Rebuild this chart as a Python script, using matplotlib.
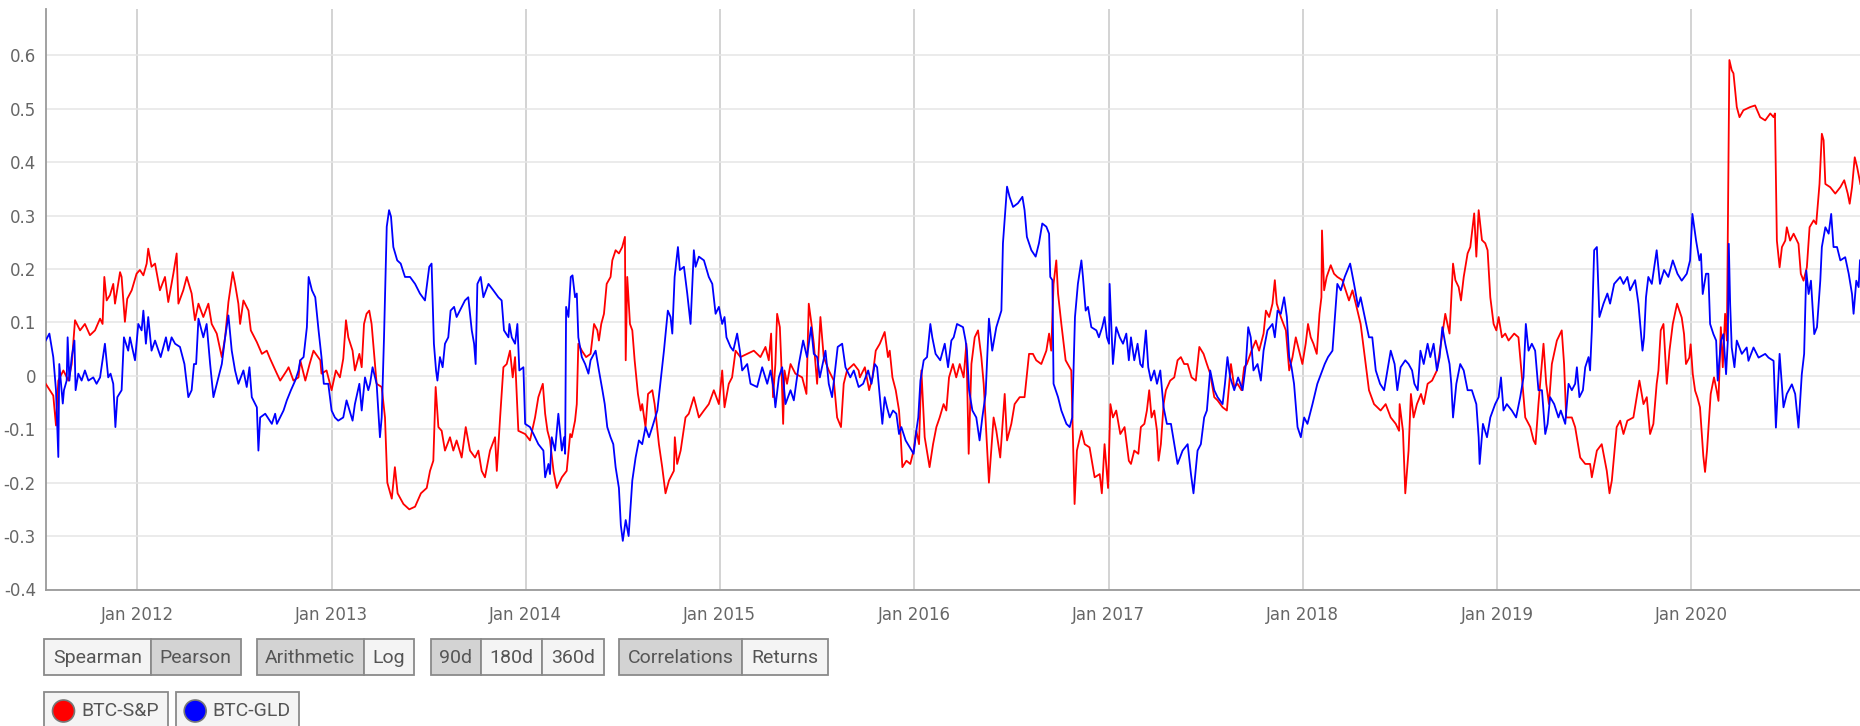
import numpy as np
import matplotlib
matplotlib.use("Agg")
import matplotlib.pyplot as plt
import matplotlib.dates as mdates
from matplotlib.patches import Rectangle, Circle
from datetime import datetime

# ---------------- data (decimal years, correlation values) ----------------
sp_t = [2011.530,2011.569,2011.583,2011.595,2011.621,2011.647,2011.664,2011.681,2011.707,2011.732,2011.758,2011.784,2011.810,2011.823,2011.832,2011.844,2011.861,2011.878,2011.887,2011.913,2011.921,2011.938,2011.950,2011.973,2011.998,
2012.015,2012.033,2012.050,2012.058,2012.075,2012.093,2012.118,2012.144,2012.161,2012.187,2012.204,2012.213,2012.238,2012.256,2012.281,2012.298,2012.316,2012.341,2012.367,2012.384,2012.410,2012.436,2012.453,2012.470,2012.492,2012.504,2012.521,2012.530,2012.547,2012.573,2012.585,2012.616,2012.642,2012.667,2012.684,2012.719,2012.736,2012.770,2012.779,2012.804,2012.830,2012.839,2012.865,2012.887,2012.907,2012.942,2012.948,2012.974,
2013.000,2013.022,2013.043,2013.060,2013.074,2013.086,2013.108,2013.120,2013.143,2013.155,2013.167,2013.180,2013.194,2013.206,2013.232,2013.258,2013.275,2013.287,2013.310,2013.326,2013.340,2013.370,2013.400,2013.430,2013.460,2013.490,2013.507,2013.524,2013.536,2013.550,2013.567,2013.584,2013.610,2013.627,2013.644,2013.670,2013.691,2013.713,2013.739,2013.756,2013.773,2013.790,2013.816,2013.842,2013.851,2013.868,2013.885,2013.902,2013.919,2013.933,2013.945,2013.962,2013.997,
2014.022,2014.048,2014.065,2014.088,2014.100,2014.112,2014.125,2014.143,2014.160,2014.186,2014.211,2014.229,2014.237,2014.254,2014.263,2014.271,2014.289,2014.311,2014.334,2014.352,2014.369,2014.377,2014.389,2014.403,2014.417,2014.437,2014.446,2014.463,2014.480,2014.497,2014.511,2014.515,2014.523,2014.537,2014.549,2014.561,2014.578,2014.592,2014.600,2014.617,2014.630,2014.652,2014.664,2014.686,2014.703,2014.720,2014.738,2014.763,2014.768,2014.780,2014.798,2014.823,2014.840,2014.866,2014.892,2014.918,2014.943,2014.969,2014.995,
2015.012,2015.024,2015.046,2015.063,2015.081,2015.106,2015.141,2015.175,2015.209,2015.235,2015.252,2015.264,2015.274,2015.286,2015.295,2015.309,2015.316,2015.326,2015.333,2015.346,2015.364,2015.389,2015.424,2015.446,2015.458,2015.472,2015.484,2015.501,2015.518,2015.535,2015.561,2015.587,2015.604,2015.624,2015.638,2015.655,2015.690,2015.715,2015.721,2015.747,2015.769,2015.786,2015.803,2015.824,2015.849,2015.866,2015.875,2015.889,2015.906,2015.923,2015.930,2015.940,2015.961,2015.981,2015.998,
2016.012,2016.026,2016.038,2016.055,2016.080,2016.098,2016.115,2016.132,2016.152,2016.166,2016.180,2016.200,2016.217,2016.235,2016.255,2016.269,2016.281,2016.295,2016.312,2016.329,2016.346,2016.358,2016.372,2016.385,2016.409,2016.423,2016.443,2016.466,2016.478,2016.500,2016.517,2016.543,2016.568,2016.591,2016.611,2016.628,2016.654,2016.680,2016.694,2016.705,2016.717,2016.731,2016.740,2016.757,2016.779,2016.808,2016.825,2016.837,2016.860,2016.877,2016.902,2016.928,2016.954,2016.965,2016.979,2016.997,
2017.009,2017.022,2017.039,2017.060,2017.082,2017.104,2017.115,2017.132,2017.153,2017.166,2017.184,2017.197,2017.209,2017.221,2017.235,2017.249,2017.257,2017.269,2017.283,2017.295,2017.317,2017.338,2017.355,2017.372,2017.389,2017.407,2017.427,2017.449,2017.467,2017.489,2017.506,2017.523,2017.544,2017.561,2017.587,2017.609,2017.621,2017.630,2017.647,2017.664,2017.684,2017.698,2017.712,2017.736,2017.758,2017.775,2017.798,2017.810,2017.827,2017.844,2017.856,2017.866,2017.887,2017.913,2017.930,2017.947,2017.964,2017.981,2017.998,
2018.015,2018.027,2018.041,2018.055,2018.072,2018.086,2018.096,2018.099,2018.110,2018.123,2018.144,2018.161,2018.178,2018.204,2018.238,2018.256,2018.273,2018.298,2018.341,2018.367,2018.401,2018.427,2018.453,2018.479,2018.496,2018.499,2018.516,2018.528,2018.545,2018.557,2018.571,2018.588,2018.609,2018.623,2018.643,2018.666,2018.691,2018.722,2018.734,2018.756,2018.774,2018.786,2018.803,2018.815,2018.829,2018.849,2018.863,2018.883,2018.894,2018.906,2018.923,2018.940,2018.952,2018.966,2018.983,2018.997,
2019.009,2019.026,2019.043,2019.060,2019.089,2019.111,2019.129,2019.146,2019.172,2019.189,2019.199,2019.214,2019.240,2019.254,2019.268,2019.283,2019.309,2019.334,2019.346,2019.357,2019.386,2019.403,2019.429,2019.455,2019.480,2019.489,2019.515,2019.540,2019.566,2019.580,2019.592,2019.617,2019.635,2019.652,2019.672,2019.703,2019.734,2019.755,2019.772,2019.789,2019.806,2019.823,2019.832,2019.844,2019.858,2019.875,2019.889,2019.906,2019.928,2019.952,2019.964,2019.974,2019.991,2019.998,
2020.009,2020.021,2020.033,2020.046,2020.063,2020.072,2020.082,2020.101,2020.118,2020.132,2020.141,2020.153,2020.163,2020.175,2020.184,2020.197,2020.209,2020.218,2020.235,2020.249,2020.269,2020.304,2020.329,2020.355,2020.381,2020.407,2020.424,2020.431,2020.441,2020.455,2020.467,2020.484,2020.492,2020.509,2020.527,2020.552,2020.564,2020.578,2020.595,2020.609,2020.630,2020.643,2020.660,2020.672,2020.681,2020.690,2020.715,2020.741,2020.767,2020.787,2020.805,2020.815,2020.827,2020.841,2020.853,2020.870]
sp_v = [-0.015,-0.037,-0.093,-0.009,0.010,-0.009,0.022,0.104,0.085,0.097,0.076,0.085,0.107,0.097,0.185,0.141,0.151,0.172,0.135,0.194,0.185,0.101,0.144,0.160,0.191,
0.198,0.188,0.210,0.238,0.204,0.210,0.160,0.185,0.138,0.191,0.229,0.135,0.160,0.185,0.154,0.104,0.135,0.110,0.135,0.097,0.079,0.035,0.072,0.138,0.194,0.172,0.135,0.097,0.141,0.122,0.085,0.063,0.041,0.047,0.032,0.004,-0.009,0.010,0.016,-0.009,-0.003,0.029,-0.009,0.022,0.047,0.029,0.004,0.010,
-0.027,0.010,-0.003,0.032,0.104,0.072,0.047,0.010,0.041,0.016,0.097,0.116,0.122,0.097,-0.015,-0.021,-0.078,-0.200,-0.230,-0.171,-0.220,-0.240,-0.250,-0.245,-0.220,-0.210,-0.178,-0.159,-0.021,-0.096,-0.103,-0.140,-0.115,-0.140,-0.121,-0.153,-0.096,-0.140,-0.153,-0.140,-0.178,-0.190,-0.140,-0.115,-0.178,-0.078,0.016,0.022,0.047,-0.003,0.035,-0.103,-0.109,
-0.121,-0.078,-0.040,-0.015,-0.071,-0.103,-0.121,-0.178,-0.210,-0.190,-0.178,-0.109,-0.115,-0.084,-0.053,0.060,0.047,0.035,0.041,0.097,0.085,0.066,0.097,0.116,0.172,0.185,0.216,0.235,0.229,0.241,0.260,0.029,0.185,0.097,0.085,0.029,-0.034,-0.065,-0.053,-0.096,-0.034,-0.027,-0.053,-0.128,-0.171,-0.220,-0.196,-0.178,-0.115,-0.165,-0.140,-0.078,-0.071,-0.040,-0.078,-0.065,-0.053,-0.027,-0.053,
0.010,-0.059,-0.015,-0.003,0.047,0.035,0.041,0.047,0.035,0.054,0.029,0.079,-0.040,0.022,0.116,0.091,0.029,-0.090,0.010,-0.015,0.022,0.004,-0.003,-0.034,0.135,0.097,0.060,-0.015,0.110,0.035,0.010,-0.009,-0.078,-0.096,-0.015,0.010,0.022,0.010,-0.003,0.016,-0.027,-0.003,0.047,0.060,0.082,0.035,0.047,-0.003,-0.027,-0.065,-0.103,-0.171,-0.159,-0.165,-0.140,
-0.103,-0.128,0.010,-0.115,-0.171,-0.128,-0.096,-0.078,-0.053,-0.065,-0.003,0.022,-0.003,0.022,-0.003,0.060,-0.146,0.022,0.072,0.085,0.035,-0.015,-0.109,-0.200,-0.078,-0.103,-0.153,-0.034,-0.121,-0.090,-0.053,-0.040,-0.040,0.041,0.041,0.029,0.022,0.047,0.079,0.047,0.172,0.216,0.154,0.097,0.029,0.010,-0.240,-0.140,-0.103,-0.128,-0.134,-0.190,-0.184,-0.220,-0.128,-0.210,
-0.053,-0.078,-0.065,-0.109,-0.096,-0.159,-0.165,-0.140,-0.146,-0.096,-0.090,-0.065,-0.027,-0.078,-0.065,-0.103,-0.159,-0.128,-0.053,-0.027,-0.009,-0.003,0.029,0.035,0.022,0.022,-0.003,-0.009,0.054,0.041,0.022,0.004,-0.040,-0.046,-0.059,-0.065,-0.015,0.022,-0.021,-0.015,-0.027,0.016,0.022,0.047,0.066,0.047,0.079,0.122,0.110,0.135,0.179,0.135,0.110,0.085,0.010,0.035,0.072,0.047,0.022,
0.060,0.097,0.072,0.060,0.041,0.116,0.147,0.272,0.160,0.185,0.207,0.191,0.185,0.179,0.141,0.160,0.135,0.097,-0.027,-0.053,-0.065,-0.053,-0.078,-0.090,-0.103,-0.053,-0.103,-0.220,-0.140,-0.034,-0.078,-0.053,-0.034,-0.053,-0.015,-0.009,0.010,0.085,0.116,0.079,0.210,0.179,0.166,0.141,0.185,0.229,0.241,0.304,0.223,0.310,0.254,0.248,0.235,0.147,0.097,0.085,
0.110,0.072,0.079,0.066,0.079,0.072,-0.003,-0.078,-0.096,-0.121,-0.128,-0.053,0.060,-0.015,-0.053,0.022,0.066,0.085,0.022,-0.078,-0.078,-0.096,-0.153,-0.165,-0.165,-0.190,-0.140,-0.128,-0.178,-0.220,-0.196,-0.096,-0.084,-0.109,-0.084,-0.078,-0.009,-0.053,-0.040,-0.109,-0.090,-0.015,0.010,0.085,0.097,-0.015,0.047,0.097,0.135,0.109,0.078,0.022,0.034,0.059,
0.003,-0.028,-0.041,-0.059,-0.150,-0.180,-0.140,-0.034,-0.003,-0.028,-0.047,0.091,0.016,0.116,0.066,0.591,0.572,0.566,0.503,0.484,0.497,0.503,0.506,0.484,0.478,0.491,0.484,0.491,0.253,0.203,0.241,0.253,0.278,0.253,0.266,0.247,0.191,0.178,0.203,0.278,0.291,0.284,0.359,0.453,0.441,0.359,0.353,0.341,0.353,0.366,0.341,0.322,0.353,0.409,0.391,0.359]

gld_t = [2011.530,2011.549,2011.569,2011.583,2011.595,2011.600,2011.618,2011.624,2011.638,2011.643,2011.652,2011.664,2011.678,2011.684,2011.698,2011.715,2011.732,2011.750,2011.775,2011.792,2011.810,2011.835,2011.852,2011.864,2011.878,2011.889,2011.899,2011.921,2011.933,2011.955,2011.964,2011.990,
2012.007,2012.024,2012.033,2012.046,2012.058,2012.075,2012.093,2012.122,2012.149,2012.161,2012.178,2012.196,2012.221,2012.244,2012.264,2012.281,2012.293,2012.304,2012.316,2012.341,2012.358,2012.376,2012.393,2012.419,2012.436,2012.453,2012.470,2012.487,2012.504,2012.521,2012.547,2012.564,2012.578,2012.590,2012.616,2012.624,2012.633,2012.659,2012.693,2012.710,2012.719,2012.753,2012.770,2012.791,2012.813,2012.830,2012.839,2012.856,2012.873,2012.882,2012.899,2012.916,2012.933,2012.948,2012.960,2012.983,
2013.000,2013.017,2013.034,2013.060,2013.077,2013.108,2013.120,2013.143,2013.155,2013.172,2013.189,2013.198,2013.211,2013.232,2013.249,2013.258,2013.270,2013.284,2013.296,2013.306,2013.318,2013.338,2013.356,2013.378,2013.404,2013.430,2013.455,2013.481,2013.503,2013.515,2013.527,2013.538,2013.545,2013.558,2013.572,2013.584,2013.601,2013.613,2013.631,2013.644,2013.670,2013.687,2013.704,2013.722,2013.734,2013.742,2013.751,2013.768,2013.782,2013.808,2013.833,2013.859,2013.876,2013.888,2013.911,2013.916,2013.928,2013.945,2013.957,2013.967,2013.988,2013.997,
2014.022,2014.040,2014.065,2014.091,2014.100,2014.117,2014.125,2014.134,2014.151,2014.168,2014.186,2014.198,2014.203,2014.208,2014.220,2014.232,2014.241,2014.254,2014.263,2014.271,2014.289,2014.306,2014.323,2014.334,2014.360,2014.377,2014.395,2014.407,2014.420,2014.437,2014.451,2014.463,2014.480,2014.490,2014.500,2014.515,2014.530,2014.549,2014.566,2014.583,2014.600,2014.617,2014.635,2014.652,2014.678,2014.712,2014.732,2014.746,2014.755,2014.767,2014.784,2014.794,2014.815,2014.832,2014.849,2014.866,2014.875,2014.892,2014.918,2014.943,2014.961,2014.978,2014.995,
2015.012,2015.024,2015.034,2015.055,2015.069,2015.089,2015.103,2015.115,2015.141,2015.158,2015.192,2015.218,2015.244,2015.261,2015.278,2015.286,2015.304,2015.321,2015.338,2015.364,2015.381,2015.407,2015.429,2015.449,2015.470,2015.484,2015.501,2015.515,2015.544,2015.561,2015.578,2015.607,2015.630,2015.647,2015.672,2015.690,2015.715,2015.738,2015.764,2015.781,2015.798,2015.810,2015.824,2015.837,2015.849,2015.861,2015.875,2015.892,2015.909,2015.923,2015.935,2015.957,2015.978,2015.998,
2016.012,2016.022,2016.033,2016.050,2016.067,2016.084,2016.094,2016.111,2016.135,2016.158,2016.175,2016.192,2016.204,2016.221,2016.252,2016.265,2016.272,2016.283,2016.300,2016.320,2016.337,2016.351,2016.368,2016.385,2016.402,2016.423,2016.449,2016.457,2016.478,2016.491,2016.509,2016.534,2016.557,2016.568,2016.580,2016.603,2016.625,2016.642,2016.659,2016.680,2016.694,2016.700,2016.711,2016.717,2016.740,2016.757,2016.783,2016.800,2016.813,2016.827,2016.842,2016.860,2016.868,2016.882,2016.894,2016.911,2016.937,2016.950,2016.967,2016.979,2016.991,
2017.002,2017.005,2017.022,2017.039,2017.057,2017.074,2017.091,2017.104,2017.115,2017.132,2017.149,2017.163,2017.175,2017.192,2017.204,2017.218,2017.235,2017.249,2017.266,2017.283,2017.300,2017.321,2017.338,2017.355,2017.381,2017.407,2017.424,2017.437,2017.458,2017.475,2017.492,2017.506,2017.523,2017.544,2017.561,2017.587,2017.599,2017.612,2017.626,2017.647,2017.667,2017.690,2017.707,2017.719,2017.732,2017.746,2017.767,2017.784,2017.798,2017.818,2017.844,2017.856,2017.870,2017.887,2017.904,2017.918,2017.930,2017.942,2017.955,2017.973,2017.990,
2018.007,2018.024,2018.050,2018.075,2018.101,2018.113,2018.130,2018.153,2018.178,2018.196,2018.216,2018.244,2018.264,2018.285,2018.298,2018.319,2018.341,2018.358,2018.376,2018.398,2018.419,2018.453,2018.473,2018.487,2018.504,2018.528,2018.545,2018.563,2018.575,2018.592,2018.606,2018.623,2018.643,2018.657,2018.674,2018.691,2018.705,2018.719,2018.734,2018.756,2018.765,2018.774,2018.791,2018.811,2018.829,2018.849,2018.871,2018.894,2018.906,2018.911,2018.928,2018.949,2018.966,2018.991,
2019.009,2019.021,2019.034,2019.051,2019.077,2019.099,2019.120,2019.137,2019.149,2019.163,2019.180,2019.197,2019.214,2019.232,2019.249,2019.261,2019.274,2019.295,2019.317,2019.329,2019.352,2019.369,2019.386,2019.403,2019.412,2019.425,2019.443,2019.455,2019.472,2019.480,2019.489,2019.501,2019.515,2019.528,2019.549,2019.569,2019.583,2019.604,2019.635,2019.652,2019.672,2019.686,2019.712,2019.729,2019.750,2019.758,2019.768,2019.780,2019.798,2019.823,2019.840,2019.861,2019.883,2019.906,2019.930,2019.952,2019.978,2019.995,
2020.007,2020.026,2020.043,2020.051,2020.060,2020.077,2020.089,2020.098,2020.115,2020.129,2020.137,2020.154,2020.166,2020.180,2020.189,2020.194,2020.201,2020.209,2020.223,2020.235,2020.261,2020.286,2020.295,2020.321,2020.347,2020.381,2020.398,2020.424,2020.436,2020.455,2020.475,2020.492,2020.518,2020.535,2020.552,2020.569,2020.581,2020.592,2020.604,2020.616,2020.633,2020.647,2020.664,2020.672,2020.690,2020.707,2020.720,2020.732,2020.750,2020.767,2020.792,2020.810,2020.827,2020.835,2020.849,2020.861,2020.868]
gld_v = [0.066,0.079,0.035,-0.027,-0.152,0.022,-0.052,-0.027,-0.009,0.072,-0.009,0.035,0.066,-0.027,0.004,-0.009,0.010,-0.009,-0.003,-0.015,-0.003,0.060,-0.003,0.004,-0.015,-0.096,-0.040,-0.027,0.072,0.047,0.072,0.029,
0.097,0.085,0.122,0.060,0.110,0.047,0.066,0.035,0.072,0.047,0.072,0.060,0.054,0.022,-0.040,-0.027,0.022,0.022,0.107,0.072,0.097,0.022,-0.040,-0.003,0.022,0.072,0.113,0.047,0.010,-0.015,0.010,-0.021,0.016,-0.040,-0.059,-0.140,-0.078,-0.071,-0.090,-0.071,-0.090,-0.065,-0.046,-0.027,-0.009,0.010,0.029,0.035,0.091,0.185,0.160,0.147,0.085,0.035,-0.015,-0.015,
-0.065,-0.078,-0.084,-0.078,-0.046,-0.084,-0.053,-0.015,-0.065,-0.003,-0.027,-0.015,0.016,-0.015,-0.115,-0.078,0.072,0.279,0.310,0.298,0.241,0.216,0.210,0.185,0.185,0.172,0.154,0.141,0.204,0.210,0.060,0.010,-0.009,0.035,0.016,0.060,0.072,0.122,0.129,0.110,0.129,0.141,0.147,0.085,0.060,0.022,0.172,0.185,0.147,0.172,0.160,0.147,0.141,0.085,0.072,0.097,0.072,0.060,0.097,0.010,0.016,-0.090,
-0.096,-0.109,-0.128,-0.140,-0.190,-0.165,-0.184,-0.115,-0.140,-0.071,-0.140,-0.115,-0.146,0.129,0.110,0.185,0.188,0.147,0.154,0.072,0.035,0.022,0.004,0.029,0.047,0.010,-0.027,-0.053,-0.096,-0.115,-0.128,-0.171,-0.210,-0.280,-0.309,-0.270,-0.300,-0.196,-0.153,-0.121,-0.128,-0.096,-0.115,-0.096,-0.065,0.047,0.122,0.110,0.079,0.185,0.241,0.198,0.204,0.154,0.097,0.235,0.204,0.223,0.216,0.185,0.172,0.116,0.129,
0.097,0.110,0.072,0.054,0.047,0.079,0.047,0.010,0.022,-0.015,-0.021,0.016,-0.015,0.010,-0.027,-0.059,-0.003,0.016,-0.053,-0.027,-0.046,0.022,0.066,0.035,0.091,0.041,0.035,-0.003,0.047,-0.015,-0.040,0.054,0.060,0.016,-0.003,0.010,-0.021,-0.015,0.010,-0.015,0.022,0.016,-0.040,-0.090,-0.040,-0.059,-0.078,-0.065,-0.071,-0.109,-0.096,-0.121,-0.134,-0.146,
-0.103,-0.078,-0.009,0.029,0.035,0.097,0.072,0.041,0.029,0.060,0.016,0.066,0.072,0.097,0.091,0.066,0.047,-0.027,-0.065,-0.078,-0.121,-0.078,-0.034,0.107,0.047,0.091,0.122,0.248,0.354,0.335,0.316,0.323,0.335,0.310,0.260,0.235,0.223,0.248,0.285,0.279,0.266,0.185,0.179,-0.015,-0.040,-0.065,-0.090,-0.096,-0.078,0.110,0.172,0.216,0.185,0.122,0.129,0.091,0.085,0.072,0.091,0.110,0.072,
0.060,0.172,0.022,0.091,0.072,0.060,0.079,0.029,0.072,0.029,0.060,0.022,0.016,0.085,0.016,-0.009,0.010,-0.015,0.010,-0.059,-0.090,-0.090,-0.128,-0.165,-0.140,-0.128,-0.184,-0.220,-0.140,-0.128,-0.078,-0.065,0.010,-0.027,-0.040,-0.053,-0.015,0.035,-0.003,-0.027,-0.003,-0.027,0.022,0.091,0.072,0.010,0.022,-0.009,0.047,0.085,0.097,0.072,0.122,0.116,0.147,0.110,0.035,0.016,-0.015,-0.096,-0.115,
-0.078,-0.090,-0.053,-0.015,0.010,0.022,0.035,0.047,0.172,0.160,0.185,0.210,0.172,0.129,0.147,0.110,0.072,0.072,0.010,-0.015,-0.027,0.047,0.022,-0.027,0.016,0.029,0.022,0.010,-0.015,-0.027,0.047,0.022,0.060,0.035,0.060,0.010,0.035,0.091,0.060,0.022,-0.015,-0.078,-0.015,0.022,0.010,-0.027,-0.027,-0.053,-0.115,-0.165,-0.090,-0.115,-0.078,-0.053,
-0.040,-0.003,-0.065,-0.053,-0.065,-0.078,-0.040,-0.003,0.097,0.047,0.060,0.047,-0.027,-0.027,-0.109,-0.090,-0.040,-0.053,-0.078,-0.065,-0.090,-0.015,-0.027,-0.015,0.016,-0.040,-0.027,0.016,0.035,0.010,0.085,0.235,0.241,0.110,0.135,0.154,0.135,0.172,0.185,0.172,0.185,0.160,0.179,0.135,0.047,0.072,0.147,0.185,0.172,0.235,0.172,0.198,0.185,0.216,0.191,0.178,0.191,0.216,
0.303,0.253,0.216,0.228,0.153,0.191,0.191,0.097,0.078,0.066,-0.009,0.066,0.078,0.003,0.066,0.247,0.134,0.053,0.016,0.066,0.041,0.053,0.028,0.053,0.034,0.041,0.034,0.028,-0.097,0.041,-0.059,-0.034,-0.016,-0.034,-0.097,0.003,0.041,0.197,0.153,0.178,0.078,0.091,0.178,0.241,0.278,0.266,0.303,0.241,0.241,0.216,0.222,0.191,0.153,0.116,0.178,0.166,0.216]

y_ticks = [-0.4, -0.3, -0.2, -0.1, 0.0, 0.1, 0.2, 0.3, 0.4, 0.5, 0.6]
y_tick_labels = ["-0.4", "-0.3", "-0.2", "-0.1", "0", "0.1", "0.2", "0.3", "0.4", "0.5", "0.6"]
x_start, x_end = 2011.530, 2020.868

button_groups = [["Spearman", "Pearson"], ["Arithmetic", "Log"],
                 ["90d", "180d", "360d"], ["Correlations", "Returns"]]
button_selected = [1, 0, 0, 0]
series_names = ["BTC-S&P", "BTC-GLD"]
series_colors = ["#ff0000", "#0000ff"]


def dec_to_dt(y):
    yr = int(np.floor(y))
    a = datetime(yr, 1, 1)
    b = datetime(yr + 1, 1, 1)
    return a + (b - a) * (y - yr)


W, H = 1860, 726
fig = plt.figure(figsize=(W / 100, H / 100), dpi=100)
fig.patch.set_facecolor("white")

L, R, T, B = 45.7, 1860, 9, 589.5
ax = fig.add_axes([L / W, 1 - B / H, (R - L) / W, (B - T) / H])

ax.plot([dec_to_dt(t) for t in sp_t], sp_v, color=series_colors[0], lw=1.3, zorder=3)
ax.plot([dec_to_dt(t) for t in gld_t], gld_v, color=series_colors[1], lw=1.3, zorder=4)

ax.set_xlim(dec_to_dt(x_start), dec_to_dt(x_end))
ax.set_ylim(-0.4, 0.6865)
ax.set_yticks(y_ticks)
ax.set_yticklabels(y_tick_labels)
ax.xaxis.set_major_locator(mdates.YearLocator())
ax.xaxis.set_major_formatter(mdates.DateFormatter("Jan %Y"))

ax.set_axisbelow(True)
ax.yaxis.grid(True, color="#e6e6e6", lw=1.1)
ax.xaxis.grid(True, color="#c8c8c8", lw=1.1)
for s in ["top", "right"]:
    ax.spines[s].set_visible(False)
for s in ["left", "bottom"]:
    ax.spines[s].set_color("#9a9a9a")
    ax.spines[s].set_linewidth(1.3)
ax.tick_params(axis="both", length=0, labelsize=12, colors="#666666")
ax.tick_params(axis="y", pad=7)
ax.tick_params(axis="x", pad=12)
for lab in ax.get_xticklabels() + ax.get_yticklabels():
    lab.set_fontfamily("DejaVu Sans")
    lab.set_color("#666666")

# ---------------- buttons and legend (UI overlay) ----------------
ov = fig.add_axes([0, 0, 1, 1], zorder=10)
ov.set_xlim(0, W)
ov.set_ylim(H, 0)
ov.axis("off")
ov.patch.set_alpha(0)

group_edges = [[44, 150.5, 241], [256.5, 364, 414],
               [430.5, 480.5, 541.5, 604], [619, 742, 828]]
by0, by1 = 638.5, 675
for labels, edges, sel in zip(button_groups, group_edges, button_selected):
    for i, lab in enumerate(labels):
        x0, x1 = edges[i], edges[i + 1]
        fc = "#d3d3d3" if i == sel else "#f4f4f4"
        ov.add_patch(Rectangle((x0, by0), x1 - x0, by1 - by0, facecolor=fc,
                               edgecolor="#8a8a8a", lw=1.3))
        ov.text((x0 + x1) / 2, (by0 + by1) / 2 + 1, lab, ha="center", va="center",
                fontsize=14, family="Roboto", color="#555555")

leg_boxes = [(44, 167.5), (175.7, 299)]
ly0, ly1 = 692, 735
for (x0, x1), name, col in zip(leg_boxes, series_names, series_colors):
    ov.add_patch(Rectangle((x0, ly0), x1 - x0, ly1 - ly0, facecolor="#f4f4f4",
                           edgecolor="#8a8a8a", lw=1.3, clip_on=False))
    ov.add_patch(Circle((x0 + 19.5, 711), 11, facecolor=col, edgecolor="#777777", lw=1.2))
    ov.text(x0 + 37, 711, name, ha="left", va="center", fontsize=14,
            family="Roboto", color="#555555")

fig.savefig("out.png", dpi=100, facecolor="white")
